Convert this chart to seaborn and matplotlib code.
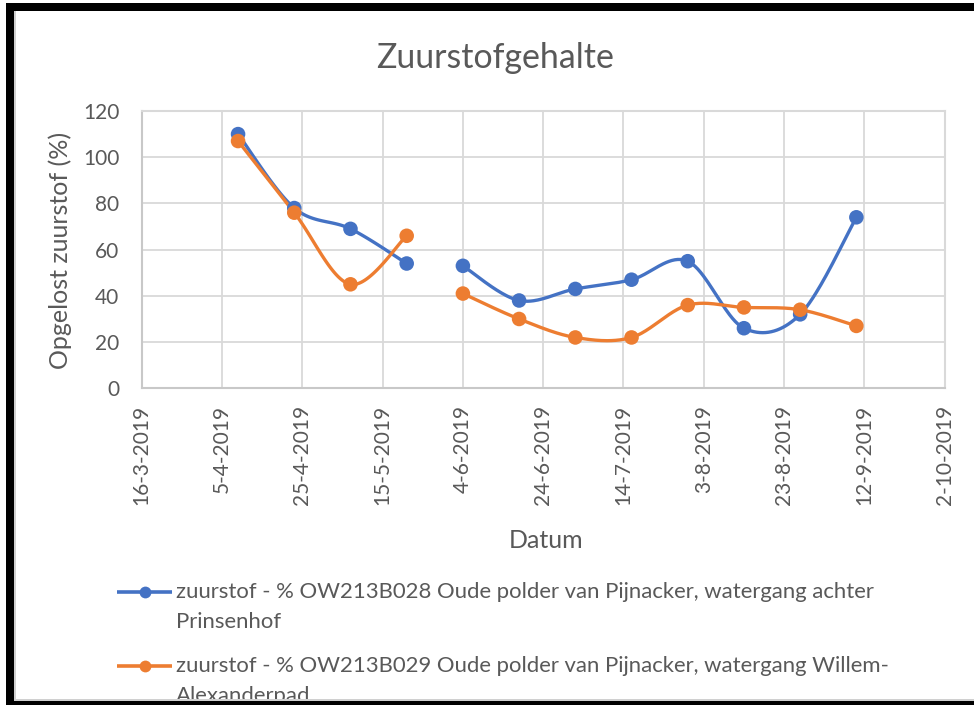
import numpy as np
import pandas as pd
import matplotlib
matplotlib.use("Agg")
import matplotlib.pyplot as plt
import matplotlib.dates as mdates
from matplotlib.lines import Line2D
from matplotlib.patches import Rectangle
import seaborn as sns

# ---------------- data ----------------
dates = ["9-4-2019", "23-4-2019", "7-5-2019", "21-5-2019", "28-5-2019",
         "4-6-2019", "18-6-2019", "2-7-2019", "16-7-2019", "30-7-2019",
         "13-8-2019", "27-8-2019", "10-9-2019"]
ow028 = [110, 78, 69, 54, np.nan, 53, 38, 43, 47, 55, 26, 32, 74]
ow029 = [107, 76, 45, 66, np.nan, 41, 30, 22, 22, 36, 35, 34, 27]

label028 = "zuurstof - % OW213B028 Oude polder van Pijnacker, watergang achter\nPrinsenhof"
label029 = "zuurstof - % OW213B029 Oude polder van Pijnacker, watergang Willem-\nAlexanderpad"

tick_dates = ["16-3-2019", "5-4-2019", "25-4-2019", "15-5-2019", "4-6-2019",
              "24-6-2019", "14-7-2019", "3-8-2019", "23-8-2019", "12-9-2019",
              "2-10-2019"]
y_ticks = [0, 20, 40, 60, 80, 100, 120]

title = "Zuurstofgehalte"
xlabel = "Datum"
ylabel = "Opgelost zuurstof (%)"

# ---------------- style ----------------
sns.set_theme(style="white")
plt.rcParams['font.family'] = ['Lato', 'DejaVu Sans']
TXT = "#595959"
GRID = "#d9d9d9"
BLUE = "#4472C4"
ORANGE = "#ED7D31"

W, H = 974, 705
fig = plt.figure(figsize=(W / 100, H / 100), dpi=100)
fig.patch.set_facecolor("white")

x0, x1, ytop, ybot = 141.7, 944.7, 111.0, 388.3
ax = fig.add_axes([x0 / W, 1 - ybot / H, (x1 - x0) / W, (ybot - ytop) / H])

df = pd.DataFrame({
    "date": pd.to_datetime(dates, format="%d-%m-%Y"),
    "ow028": ow028,
    "ow029": ow029,
})
df["x"] = mdates.date2num(df["date"])


def smooth_segments(xs, ys, n=40):
    """Excel-style Bezier (Catmull-Rom) smoothing, split at gaps."""
    xs = np.asarray(xs, float)
    ys = np.asarray(ys, float)
    segs, cur = [], []
    for xv, yv in zip(xs, ys):
        if np.isnan(yv):
            if cur:
                segs.append(cur)
            cur = []
        else:
            cur.append((xv, yv))
    if cur:
        segs.append(cur)
    out = []
    for seg in segs:
        P = np.array(seg)
        if len(P) < 2:
            continue
        px, py = [], []
        t = np.linspace(0, 1, n)
        for i in range(len(P) - 1):
            p0 = P[i - 1] if i > 0 else P[i]
            p1, p2 = P[i], P[i + 1]
            p3 = P[i + 2] if i + 2 < len(P) else P[i + 1]
            c1 = p1 + (p2 - p0) / 6
            c2 = p2 - (p3 - p1) / 6
            b = ((1 - t) ** 3)[:, None] * p1 + (3 * (1 - t) ** 2 * t)[:, None] * c1 \
                + (3 * (1 - t) * t ** 2)[:, None] * c2 + (t ** 3)[:, None] * p2
            px.extend(b[:, 0]); py.extend(b[:, 1])
        out.append(pd.DataFrame({"x": px, "y": py}))
    return out


for col, color in [("ow028", BLUE), ("ow029", ORANGE)]:
    for seg in smooth_segments(df["x"], df[col]):
        sns.lineplot(data=seg, x="x", y="y", ax=ax, color=color, lw=2.4,
                     estimator=None, sort=False, zorder=3)
    sns.scatterplot(data=df.dropna(subset=[col]), x="x", y=col, ax=ax,
                    color=color, s=110, edgecolor="none", zorder=4)

tick_x = mdates.date2num(pd.to_datetime(tick_dates, format="%d-%m-%Y"))
ax.set_xlim(tick_x[0], tick_x[-1])
ax.set_ylim(0, 120)
ax.set_xticks(tick_x)
ax.set_xticklabels(tick_dates, rotation=90, fontsize=15, color=TXT)
ax.set_yticks(y_ticks)
ax.set_yticklabels([str(v) for v in y_ticks], fontsize=15, color=TXT)
ax.tick_params(axis="x", length=0, pad=12)
ax.tick_params(axis="y", length=0, pad=16)
ax.grid(True, color=GRID, lw=1.3)
ax.set_axisbelow(True)
for sp in ax.spines.values():
    sp.set_visible(True)
    sp.set_color(GRID)
    sp.set_linewidth(1.5)
ax.spines["bottom"].set_color("#c8c8c8")
ax.spines["left"].set_color("#c8c8c8")
ax.set_xlabel("")
ax.set_ylabel("")

fig.text(495 / W, 1 - 58 / H, title, ha="center", va="center", fontsize=24.4, color=TXT)
fig.text(546 / W, 1 - 541 / H, xlabel, ha="center", va="center", fontsize=18, color=TXT)
fig.text(60 / W, 1 - 250 / H, ylabel, ha="center", va="center", rotation=90,
         fontsize=18, color=TXT)

# legend (two wrapped entries, handle level with the first line)
leg_items = [(label028, BLUE, 592), (label029, ORANGE, 666)]
for lab, color, yc in leg_items:
    fig.add_artist(Line2D([117 / W, 172 / W], [1 - yc / H, 1 - yc / H],
                          transform=fig.transFigure, color=color, lw=2.6,
                          solid_capstyle="butt", zorder=6))
    fig.add_artist(Line2D([144.5 / W], [1 - yc / H], transform=fig.transFigure,
                          color=color, marker="o", markersize=8.5, lw=0,
                          markeredgewidth=0, zorder=7))
    first, second = lab.split("\n")
    fig.text(176 / W, 1 - yc / H, first, ha="left", va="center",
             fontsize=15.9, color=TXT, zorder=6)
    fig.text(176 / W, 1 - (yc + 30) / H, second, ha="left", va="center",
             fontsize=15.9, color=TXT, zorder=6)

# screenshot frame
def px_rect(xa, ya, xb, yb, color, z=20):
    fig.add_artist(Rectangle((xa / W, 1 - yb / H), (xb - xa) / W, (yb - ya) / H,
                             transform=fig.transFigure, facecolor=color,
                             edgecolor="none", zorder=z))

px_rect(6, 3, W, 11, "black")
px_rect(6, 3, 14, H, "black")
px_rect(14, 698.5, W, 700.5, "#d0d0d0")
px_rect(6, 701, W, H, "black")
px_rect(14, 11, 15.5, 700, "#d0d0d0")

fig.savefig("out.png", dpi=100, facecolor="white")
